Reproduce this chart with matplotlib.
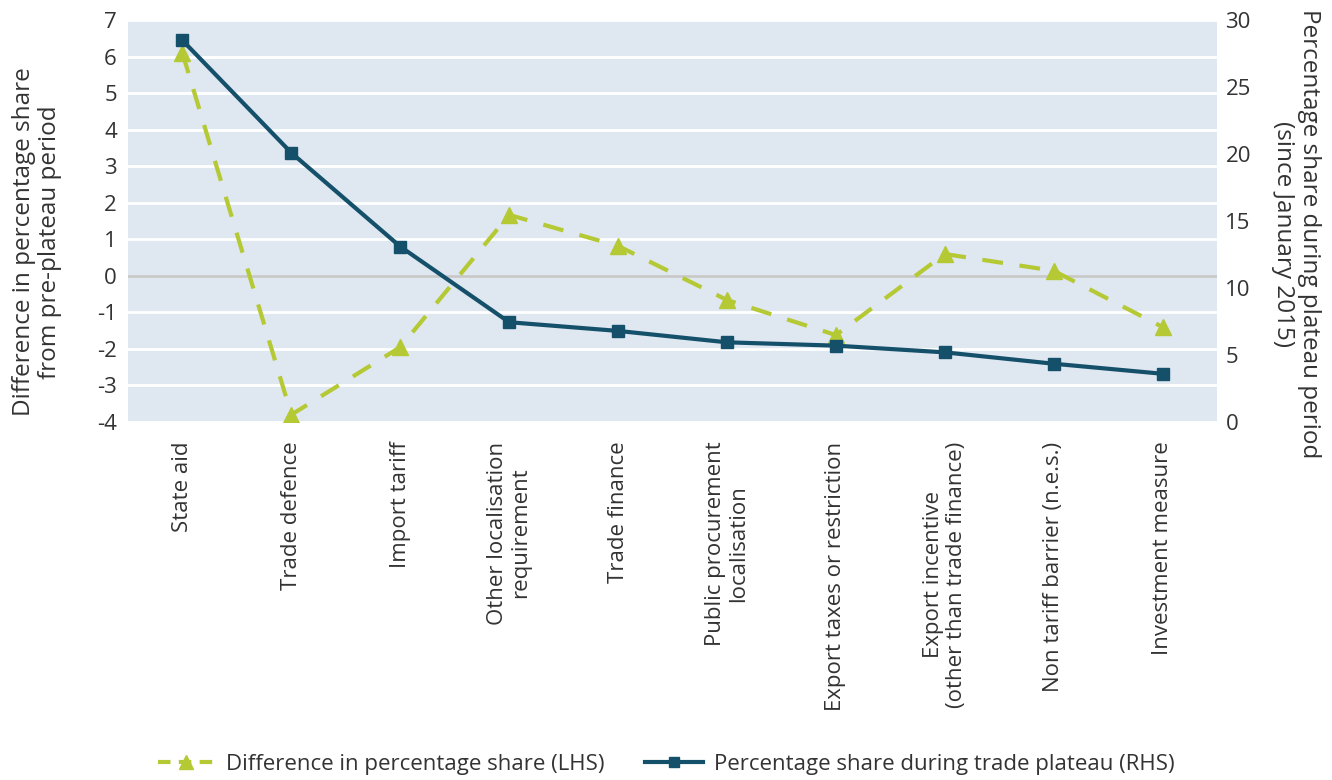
import numpy as np
import matplotlib.pyplot as plt
from matplotlib.lines import Line2D

plt.rcParams['font.family'] = ['Open Sans', 'DejaVu Sans']
plt.rcParams['axes.unicode_minus'] = False

categories = [
    "State aid",
    "Trade defence",
    "Import tariff",
    "Other localisation\nrequirement",
    "Trade finance",
    "Public procurement\nlocalisation",
    "Export taxes or restriction",
    "Export incentive\n(other than trade finance)",
    "Non tariff barrier (n.e.s.)",
    "Investment measure",
]
diff_lhs = [6.1, -3.8, -1.95, 1.67, 0.82, -0.66, -1.62, 0.6, 0.14, -1.4]
share_rhs = [28.5, 20.1, 13.1, 7.45, 6.8, 5.95, 5.7, 5.2, 4.35, 3.6]

GREEN = "#b5c934"
NAVY = "#15506b"
BG = "#dfe7f1"
TXT = "#333333"

fig = plt.figure(figsize=(13.32, 7.8), dpi=100)
ax = fig.add_axes([0.0961, 0.459, 0.8176, 0.515])
ax2 = ax.twinx()

x = np.arange(len(categories))
ax.set_facecolor(BG)
ax.set_xlim(-0.5, len(categories) - 0.5)
ax.set_ylim(-4, 7)
ax.set_yticks(range(-4, 8))
ax.yaxis.grid(True, color="white", linewidth=2)
ax.set_axisbelow(True)
ax.axhline(0, color="#c8c8c8", linewidth=2, zorder=1)

ax.plot(x, diff_lhs, color=GREEN, linestyle=(0, (5, 4)), linewidth=3,
        marker="^", markersize=11, zorder=3)

ax2.set_ylim(0, 30)
ax2.set_yticks(range(0, 31, 5))
ax2.plot(x, share_rhs, color=NAVY, linewidth=3, marker="s", markersize=8, zorder=4)

for a in (ax, ax2):
    for s in a.spines.values():
        s.set_visible(False)
    a.tick_params(length=0, labelsize=16, colors=TXT)

ax.set_xticks(x)
ax.set_xticklabels(categories, rotation=90, va="top", ha="center",
                   fontsize=16, color=TXT, linespacing=1.1)
ax.tick_params(axis="x", pad=14)
ax.tick_params(axis="y", pad=8)
ax2.tick_params(axis="y", pad=6)

fig.text(0.028, 0.69, "Difference in percentage share\nfrom pre-plateau period",
         rotation=90, ha="center", va="center", fontsize=17.5, color=TXT,
         linespacing=1.1)
fig.text(0.973, 0.70, "Percentage share during plateau period\n(since January 2015)",
         rotation=270, ha="center", va="center", fontsize=17.5, color=TXT,
         linespacing=1.1)

handles = [
    Line2D([], [], color=GREEN, linestyle=(0, (3, 2)), linewidth=3, marker="^", markersize=10),
    Line2D([], [], color=NAVY, linewidth=3, marker="s", markersize=7),
]
labels = ["Difference in percentage share (LHS)", "Percentage share during trade plateau (RHS)"]
fig.legend(handles, labels, loc="center", bbox_to_anchor=(0.5, 0.02), ncol=2,
           frameon=False, fontsize=16, handlelength=2.6, handletextpad=0.5,
           columnspacing=1.8, labelcolor=TXT)

fig.savefig("out.png", dpi=100)
